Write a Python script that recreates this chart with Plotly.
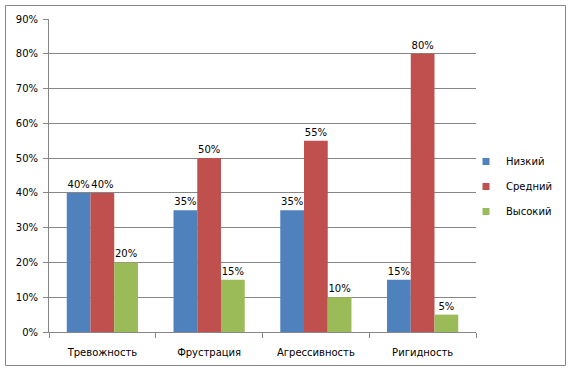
import plotly.graph_objects as go

categories = ["Тревожность", "Фрустрация", "Агрессивность", "Ригидность"]
low = [40, 35, 35, 15]
mid = [40, 50, 55, 80]
high = [20, 15, 10, 5]
series_names = ["Низкий", "Средний", "Высокий"]
colors = ["#4F81BD", "#C0504D", "#9BBB59"]

W, H = 574, 372
L, R, T, B = 49, 98, 19, 40
pw = W - L - R
ph = H - T - B

FS = 10
font = dict(family="DejaVu Sans", size=FS, color="black")

fig = go.Figure()
for name, vals, c in zip(series_names, [low, mid, high], colors):
    fig.add_trace(go.Bar(
        x=categories, y=vals, name=name, showlegend=False,
        marker=dict(color=c, line=dict(width=0)),
        text=[f"{v}%" for v in vals], textposition="outside",
        textfont=font, cliponaxis=False,
    ))
# legend entries with small square swatches
for name, c in zip(series_names, colors):
    fig.add_trace(go.Scatter(
        x=[None], y=[None], mode="markers", name=name, legendgroup=name,
        marker=dict(symbol="square", size=7, color=c),
    ))

def px_x(p):
    return (p - L) / pw

def px_y(p):
    return 1 - (p - T) / ph

fig.add_shape(type="rect", xref="paper", yref="paper",
              x0=px_x(5.5), x1=px_x(565.5), y0=px_y(365.5), y1=px_y(5.5),
              line=dict(color="#868686", width=1), fillcolor="rgba(0,0,0,0)")

fig.update_layout(
    width=W, height=H,
    margin=dict(l=L, r=R, t=T, b=B, autoexpand=False),
    paper_bgcolor="white", plot_bgcolor="white",
    barmode="group", bargap=0.333, bargroupgap=0,
    font=font,
    showlegend=True,
    legend=dict(x=px_x(466), y=px_y(147), xanchor="left", yanchor="top",
                font=font, itemwidth=30, tracegroupgap=6,
                traceorder="grouped", bgcolor="rgba(0,0,0,0)"),
    xaxis=dict(showgrid=False, showline=True, linecolor="#868686", linewidth=1,
               ticks="outside", ticklen=5, tickcolor="#868686",
               tickson="boundaries", tickfont=font, ticklabelstandoff=11),
    yaxis=dict(range=[0, 90], dtick=10, ticksuffix="%", showgrid=True,
               gridcolor="#868686", gridwidth=1, showline=True, linecolor="#868686",
               ticks="outside", ticklen=5, tickcolor="#868686", zeroline=False,
               tickfont=font, ticklabelstandoff=3),
)

fig.write_html("out.html", config={"displayModeBar": False},
               post_script="document.body.style.margin='0';")
